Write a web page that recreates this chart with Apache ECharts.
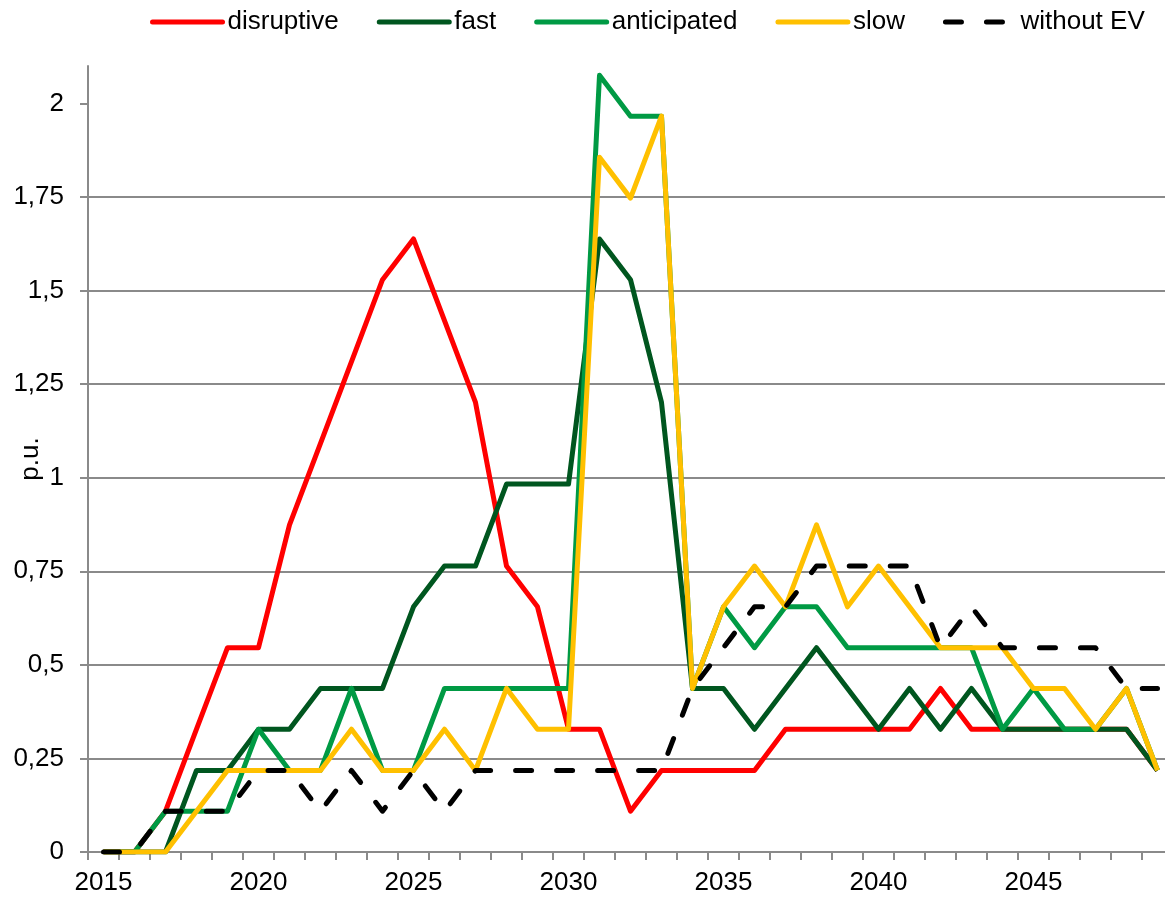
<!DOCTYPE html>
<html>
<head>
<meta charset="utf-8">
<script src="https://cdn.jsdelivr.net/npm/echarts@6/dist/echarts.min.js"></script>
<style>
  html, body { margin: 0; padding: 0; background: #fff; }
  #chart { width: 1165px; height: 899px; }
</style>
</head>
<body>
<div id="chart"></div>
<script>
// years on the x axis
const years = []
for (let y = 2015; y <= 2049; y++) years.push(String(y))

// series values (p.u.)
const disruptive = [0, 0, 0.109, 0.328, 0.546, 0.546, 0.874, 1.092, 1.310, 1.529, 1.638, 1.420, 1.201, 0.764, 0.655, 0.328, 0.328, 0.109, 0.218, 0.218, 0.218, 0.218, 0.328, 0.328, 0.328, 0.328, 0.328, 0.437, 0.328, 0.328, 0.328, 0.328, 0.328, 0.328, 0.218]
const fast = [0, 0, 0, 0.218, 0.218, 0.328, 0.328, 0.437, 0.437, 0.437, 0.655, 0.764, 0.764, 0.983, 0.983, 0.983, 1.638, 1.529, 1.201, 0.437, 0.437, 0.328, 0.437, 0.546, 0.437, 0.328, 0.437, 0.328, 0.437, 0.328, 0.328, 0.328, 0.328, 0.328, 0.218]
const anticipated = [0, 0, 0.109, 0.109, 0.109, 0.328, 0.218, 0.218, 0.437, 0.218, 0.218, 0.437, 0.437, 0.437, 0.437, 0.437, 2.075, 1.966, 1.966, 0.437, 0.655, 0.546, 0.655, 0.655, 0.546, 0.546, 0.546, 0.546, 0.546, 0.328, 0.437, 0.328, 0.328, 0.437, 0.218]
const slow = [0, 0, 0, 0.109, 0.218, 0.218, 0.218, 0.218, 0.328, 0.218, 0.218, 0.328, 0.218, 0.437, 0.328, 0.328, 1.856, 1.747, 1.966, 0.437, 0.655, 0.764, 0.655, 0.874, 0.655, 0.764, 0.655, 0.546, 0.546, 0.546, 0.437, 0.437, 0.328, 0.437, 0.218]
const withoutEV = [0, 0, 0.109, 0.109, 0.109, 0.218, 0.218, 0.109, 0.218, 0.109, 0.218, 0.109, 0.218, 0.218, 0.218, 0.218, 0.218, 0.218, 0.218, 0.437, 0.546, 0.655, 0.655, 0.764, 0.764, 0.764, 0.764, 0.546, 0.655, 0.546, 0.546, 0.546, 0.546, 0.437, 0.437]

// y tick labels
const yTicks = [0, 0.25, 0.5, 0.75, 1, 1.25, 1.5, 1.75, 2]

const gray = '#8a8a8a'
const font = 'Liberation Sans, Arial, sans-serif'

const lineSeries = (name, data, color, dashed) => ({
    name: name,
    type: 'line',
    data: data,
    symbol: 'none',
    animation: false,
    lineStyle: {
        color: color,
        width: 5,
        type: dashed ? [16, 25] : 'solid',
        cap: dashed ? 'round' : 'butt',
        join: 'round',
    },
    itemStyle: { color: color },
})

const chart = echarts.init(document.getElementById('chart'))
chart.setOption({
    backgroundColor: '#fff',
    textStyle: { fontFamily: font },
    legend: {
        top: 4,
        left: 145,
        itemWidth: 70,
        itemHeight: 14,
        itemGap: 38,
        itemStyle: { opacity: 0 },
        lineStyle: { width: 5, cap: 'round' },
        textStyle: { fontSize: 26, color: '#000', fontFamily: font },
        data: ['disruptive', 'fast', 'anticipated', 'slow', 'without EV'],
    },
    grid: {
        left: 88,
        right: -8,
        top: 66,
        bottom: 47,
        containLabel: false,
        outerBoundsMode: 'none',
    },
    xAxis: {
        type: 'category',
        data: years,
        boundaryGap: true,
        axisLine: { show: true, lineStyle: { color: gray, width: 2 } },
        axisTick: { show: true, interval: 0, length: 8, lineStyle: { color: gray, width: 2 } },
        axisLabel: {
            interval: 4,
            margin: 18,
            fontSize: 26,
            color: '#000',
            fontFamily: font,
        },
        splitLine: { show: false },
    },
    yAxis: {
        type: 'value',
        min: 0,
        max: 2.1,
        interval: 0.25,
        name: 'p.u.',
        nameLocation: 'middle',
        nameGap: 44,
        nameRotate: 90,
        nameMoveOverlap: false,
        nameTextStyle: { fontSize: 26, color: '#000', fontFamily: font },
        axisLine: { show: true, lineStyle: { color: gray, width: 2 } },
        axisTick: { show: true, length: 8, customValues: yTicks, lineStyle: { color: gray, width: 2 } },
        axisLabel: {
            customValues: yTicks,
            margin: 24,
            fontSize: 26,
            color: '#000',
            fontFamily: font,
            formatter: v => String(v).replace('.', ','),
        },
        splitLine: { show: true, showMaxLine: false, lineStyle: { color: gray, width: 2 } },
    },
    series: [
        lineSeries('disruptive', disruptive, '#ff0000'),
        lineSeries('fast', fast, '#00561f'),
        lineSeries('anticipated', anticipated, '#009a44'),
        lineSeries('slow', slow, '#ffc000'),
        lineSeries('without EV', withoutEV, '#000000', true),
    ],
})
</script>
</body>
</html>
